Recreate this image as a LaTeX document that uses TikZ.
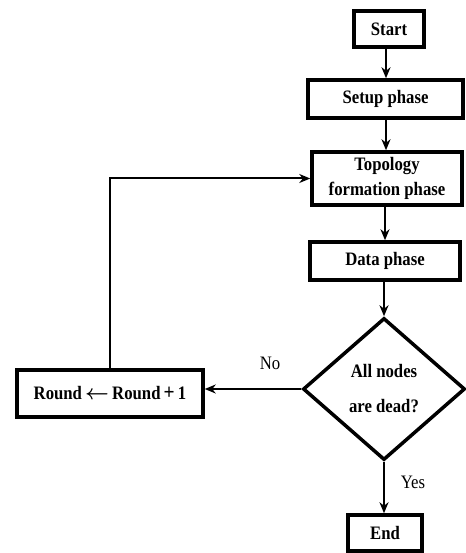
\documentclass[tikz,border=0pt]{standalone}
\usepackage{fontspec}
\usepackage{amsmath,amsbsy}
\setmainfont{Liberation Serif}[FakeStretch=0.88]
\usetikzlibrary{shapes.geometric,arrows.meta}
\newcommand{\bigsym}[1]{{\fontsize{22}{22}\selectfont#1}}
\begin{document}
\begin{tikzpicture}[x=1pt,y=1pt,
  box/.style={draw,line width=3.5pt,inner sep=0pt,align=center,
    font=\fontsize{19}{25}\selectfont\bfseries},
  arr/.style={line width=2pt,-{Stealth[length=11pt,width=9pt,inset=3.5pt]}},
  lbl/.style={font=\fontsize{19}{20}\selectfont}]
\useasboundingbox[fill=white] (0,0) rectangle (465,-553);
\node[box,minimum width=70pt,minimum height=36pt] (start) at (389,-29) {Start};
\node[box,minimum width=155pt,minimum height=38pt] (setup) at (385.5,-99) {Setup phase};
\node[box,minimum width=150pt,minimum height=53pt] (topo) at (387,-178.5) {Topology\\formation phase};
\node[draw,diamond,line width=3.5pt,minimum width=162pt,minimum height=142pt,inner sep=0pt,
  align=center,font=\fontsize{19}{35}\selectfont\bfseries] (dia) at (384,-389) {All nodes\\are dead?};
\node[box,minimum width=150pt,minimum height=38pt] (data) at (385,-261) {Data phase};
\node[box,minimum width=74pt,minimum height=36pt] (end) at (385,-533) {End};
\node[box,minimum width=186pt,minimum height=47pt] (round) at (110,-393.5)
  {Round\,\bigsym{$\boldsymbol{\leftarrow}$}\,Round\,\bigsym{+}\,1};
\draw[arr] (start.south -| 386,0) -- (386,0 |- setup.north);
\draw[arr] (setup.south -| 386,0) -- (386,0 |- topo.north);
\draw[arr] (topo.south -| 385,0) -- (385,0 |- data.north);
\draw[arr] (data.south -| dia.north) -- (dia.north);
\draw[arr] (dia.south) -- (dia.south |- end.north);
\draw[arr] (dia.west) -- (dia.west -| round.east);
\draw[arr] (round.north) |- (topo.west);
\node[lbl] (no) at (270,-363) {No};
\node[lbl] (yes) at (413,-482) {Yes};
\end{tikzpicture}
\end{document}
